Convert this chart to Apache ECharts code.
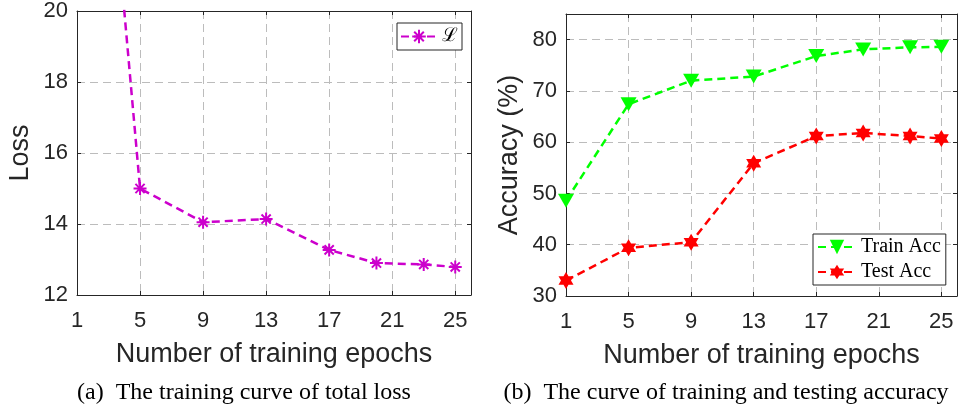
<!DOCTYPE html>
<html>
<head>
<meta charset="utf-8">
<title>training curves</title>
<script src="https://cdn.jsdelivr.net/npm/echarts@6/dist/echarts.min.js"></script>
<style>
  html, body { margin: 0; padding: 0; background: #fff; }
  #chart { width: 958px; height: 410px; }
</style>
</head>
<body>
<div id="chart"></div>
<script>
// data
var epochs = [1, 5, 9, 13, 17, 20, 23, 25];
var lossValues = [35, 15.0, 14.05, 14.14, 13.27, 12.9, 12.86, 12.79];
var trainAcc = [48.6, 67.4, 72.0, 72.8, 76.8, 78.1, 78.5, 78.6];
var testAcc = [33.0, 39.4, 40.5, 55.9, 61.2, 61.8, 61.2, 60.7];

var epochTicks = [1, 5, 9, 13, 17, 21, 25];
var lossTicks = [12, 14, 16, 18, 20];
var accTicks = [30, 40, 50, 60, 70, 80];

var captionA = "(a)\u2002The training curve of total loss";
var captionB = "(b)\u2002The curve of training and testing accuracy";

function pairs(xs, ys) {
  return xs.map(function (x, i) { return [x, ys[i]]; });
}

var axisColor = "#262626";
var gridColor = "#bcbcbc";
var sans = "Liberation Sans, Arial, sans-serif";
var serif = "Liberation Serif, Times New Roman, serif";

// markers (MATLAB style)
var asterisk = "path://M0,-10L0,10M-10,0L10,0M-7.07,-7.07L7.07,7.07M-7.07,7.07L7.07,-7.07";
var hexagram = "path://M0,-10L2.887,-5L8.66,-5L5.774,0L8.66,5L2.887,5L0,10L-2.887,5L-8.66,5L-5.774,0L-8.66,-5L-2.887,-5Z";
var triDown = "path://M0,0L10,0L5,8.66Z";

function xAxisPair(grid, name) {
  return [
    {
      type: "value", gridIndex: grid, position: "bottom",
      min: 1, max: 26,
      name: name, nameLocation: "middle", nameGap: 46,
      nameTextStyle: { fontFamily: sans, fontSize: 27, color: axisColor },
      axisLine: { lineStyle: { color: axisColor, width: 1 } },
      axisTick: { inside: true, length: 4, customValues: epochTicks, lineStyle: { color: axisColor } },
      axisLabel: { customValues: epochTicks, margin: 15, fontFamily: sans, fontSize: 22, color: axisColor },
      splitLine: { show: true, lineStyle: { color: gridColor, type: [8, 5], width: 1 } }
    },
    {
      type: "value", gridIndex: grid, position: "top",
      min: 1, max: 26,
      axisLine: { lineStyle: { color: axisColor, width: 1 } },
      axisTick: { inside: true, length: 4, customValues: epochTicks, lineStyle: { color: axisColor } },
      axisLabel: { show: false },
      splitLine: { show: false }
    }
  ];
}

function yAxisPair(grid, name, min, max, ticks) {
  return [
    {
      type: "value", gridIndex: grid, position: "left",
      min: min, max: max,
      name: name, nameLocation: "middle", nameGap: 43,
      nameTextStyle: { fontFamily: sans, fontSize: 27, color: axisColor },
      axisLine: { show: true, lineStyle: { color: axisColor, width: 1 } },
      axisTick: { show: true, inside: true, length: 4, customValues: ticks, lineStyle: { color: axisColor } },
      axisLabel: { customValues: ticks, margin: 9, fontFamily: sans, fontSize: 22, color: axisColor },
      splitLine: { show: true, lineStyle: { color: gridColor, type: [8, 5], width: 1 } }
    },
    {
      type: "value", gridIndex: grid, position: "right",
      min: min, max: max,
      axisLine: { show: true, lineStyle: { color: axisColor, width: 1 } },
      axisTick: { show: true, inside: true, length: 4, customValues: ticks, lineStyle: { color: axisColor } },
      axisLabel: { show: false },
      splitLine: { show: false }
    }
  ];
}

var option = {
  backgroundColor: "#fff",
  animation: false,
  grid: [
    { left: 77, top: 11, width: 394, height: 284 },
    { left: 566, top: 14, width: 391, height: 282 }
  ],
  xAxis: xAxisPair(0, "Number of training epochs").concat(xAxisPair(1, "Number of training epochs")),
  yAxis: yAxisPair(0, "Loss", 12, 20, lossTicks).concat(yAxisPair(1, "Accuracy (%)", 30, 85, accTicks)),
  legend: [
    {
      data: ["ℒ"],
      left: 397, top: 23,
      orient: "vertical",
      padding: [4, 4, 4, 3],
      itemWidth: 36, itemHeight: 17,
      borderColor: axisColor, borderWidth: 1,
      backgroundColor: "#fff",
      textStyle: { fontFamily: serif, fontSize: 19, color: "#000" }
    },
    {
      data: ["Train Acc", "Test Acc"],
      left: 813, top: 234,
      orient: "vertical",
      padding: [3, 5, 3, 4],
      itemWidth: 38, itemHeight: 18, itemGap: 5,
      borderColor: axisColor, borderWidth: 1,
      backgroundColor: "#fff",
      textStyle: { fontFamily: serif, fontSize: 20, color: "#000" }
    }
  ],
  series: [
    {
      name: "ℒ", type: "line",
      xAxisIndex: 0, yAxisIndex: 0,
      data: pairs(epochs, lossValues),
      symbol: asterisk, symbolSize: 13,
      itemStyle: { color: "#cc00cc", borderColor: "#cc00cc", borderWidth: 2 },
      lineStyle: { color: "#cc00cc", width: 2.5, type: [8, 5] }
    },
    {
      name: "Train Acc", type: "line",
      xAxisIndex: 2, yAxisIndex: 2,
      data: pairs(epochs, trainAcc),
      symbol: triDown, symbolSize: [16, 14],
      itemStyle: { color: "#00ff00", borderWidth: 0 },
      lineStyle: { color: "#00ff00", width: 2.5, type: [8, 5] }
    },
    {
      name: "Test Acc", type: "line",
      xAxisIndex: 2, yAxisIndex: 2,
      data: pairs(epochs, testAcc),
      symbol: hexagram, symbolSize: [15, 17],
      itemStyle: { color: "#ff0000", borderWidth: 0 },
      lineStyle: { color: "#ff0000", width: 2.5, type: [8, 5] }
    }
  ],
  graphic: [
    {
      type: "text", x: 244, y: 393,
      style: { text: captionA, textAlign: "center", textVerticalAlign: "middle", font: "24px " + serif, fill: "#000" }
    },
    {
      type: "text", x: 726, y: 393,
      style: { text: captionB, textAlign: "center", textVerticalAlign: "middle", font: "24px " + serif, fill: "#000" }
    }
  ]
};

var chart = echarts.init(document.getElementById("chart"));
chart.setOption(option);
window.addEventListener("resize", function () {
  chart.resize();
});
</script>
</body>
</html>
